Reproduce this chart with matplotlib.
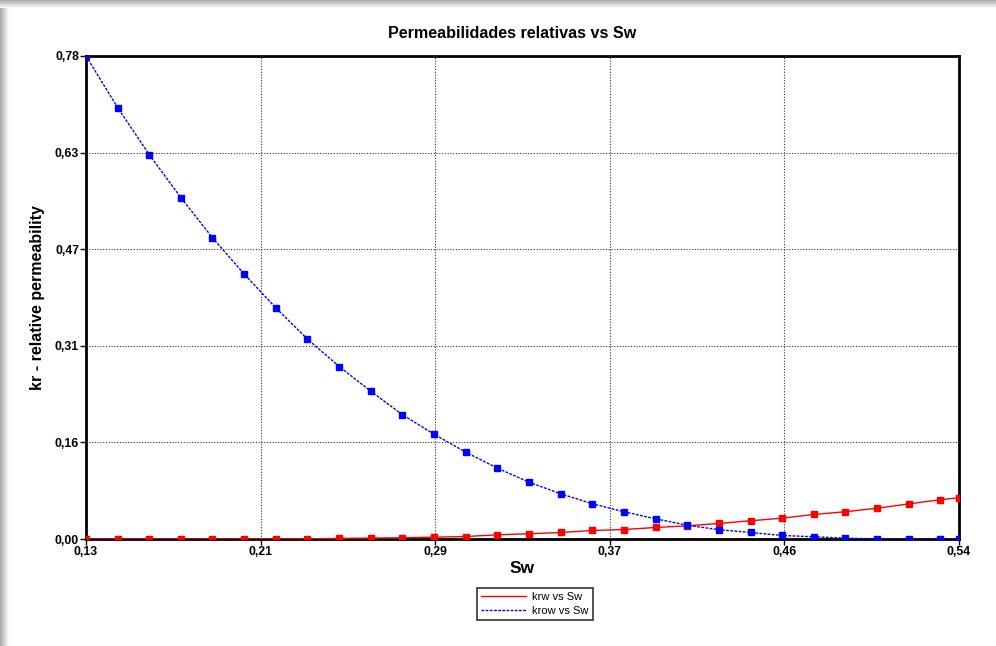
import matplotlib
matplotlib.use("Agg")
import matplotlib.pyplot as plt
import numpy as np

plt.rcParams['font.family'] = ['Liberation Sans', 'DejaVu Sans']

# water saturation of each point
sw = [0.1300, 0.1449, 0.1597, 0.1746, 0.1894, 0.2043, 0.2192, 0.2340,
      0.2489, 0.2637, 0.2786, 0.2935, 0.3083, 0.3232, 0.3380, 0.3529,
      0.3678, 0.3826, 0.3975, 0.4123, 0.4272, 0.4421, 0.4569, 0.4718,
      0.4866, 0.5015, 0.5164, 0.5312, 0.5400]

krw = [0.0, 0.0, 0.0, 0.0, 0.0, 0.0, 0.0003, 0.0003,
       0.001, 0.0015, 0.002, 0.003, 0.004, 0.0068, 0.0085, 0.0106,
       0.0138, 0.0154, 0.0187, 0.0214, 0.0252, 0.0296, 0.0338, 0.0398,
       0.0442, 0.050, 0.057, 0.0637, 0.067]

krow = [0.784, 0.700, 0.624, 0.554, 0.489, 0.430, 0.375, 0.3245,
        0.280, 0.240, 0.2018, 0.170, 0.141, 0.115, 0.0923, 0.0734,
        0.0572, 0.0442, 0.0328, 0.0224, 0.0151, 0.0106, 0.0057, 0.0036,
        0.0013, 0.0003, 0.0, 0.0, 0.0]

xtick_labels = ["0,13", "0,21", "0,29", "0,37", "0,46", "0,54"]
ytick_labels = ["0,00", "0,16", "0,31", "0,47", "0,63", "0,78"]

W, H = 996, 646
fig = plt.figure(figsize=(W / 100, H / 100), dpi=100)
fig.patch.set_facecolor("white")

# window shadow along the top and left edges
grad = np.linspace(0.66, 1.0, 64)
top = fig.add_axes([0, 1 - 8 / H, 1, 8 / H])
top.imshow(grad[:, None], aspect="auto", cmap="gray", vmin=0, vmax=1)
top.axis("off")
left = fig.add_axes([0, 0, 9 / W, 1 - 8 / H])
left.imshow(grad[None, :], aspect="auto", cmap="gray", vmin=0, vmax=1)
left.axis("off")

ax = fig.add_axes([86 / W, 1 - 539 / H, (959 - 86) / W, (539 - 56) / H])

ax.plot(sw, krw, color="red", lw=1.0, marker="s", ms=4.3,
        mec="red", mfc="red", label="krw vs Sw", zorder=3)
ax.plot(sw, krow, color="blue", lw=1.0, ls=(0, (2, 1)), marker="s", ms=4.3,
        mec="blue", mfc="blue", label="krow vs Sw", zorder=3)

ax.set_xlim(0.13, 0.54)
ax.set_ylim(0, 0.784)
ax.set_xticks(np.linspace(0.13, 0.54, 6))
ax.set_xticklabels(xtick_labels, fontsize=8.8, fontweight="bold")
ax.set_yticks(np.linspace(0, 0.784, 6))
ax.set_yticklabels(ytick_labels, fontsize=8.8, fontweight="bold")
ax.tick_params(direction="out", length=4, width=1, pad=1)
ax.grid(True, color="#333333", ls=(0, (1, 1.5)), lw=0.8)
ax.set_axisbelow(True)
for s in ax.spines.values():
    s.set_linewidth(2)
    s.set_color("black")

ax.set_title("Permeabilidades relativas vs Sw", fontsize=11.6,
             fontweight="bold", pad=13, x=(512 - 86) / 873)
ax.set_xlabel("Sw", fontsize=12.5, fontweight="bold", labelpad=2)
ax.set_ylabel("kr - relative permeability", fontsize=11.5,
              fontweight="bold", labelpad=7)

handles = [plt.Line2D([], [], color="red", lw=1.0),
           plt.Line2D([], [], color="blue", lw=1.0, ls=(0, (2, 1)))]
leg = fig.legend(handles, ["krw vs Sw", "krow vs Sw"], loc="center",
                 bbox_to_anchor=(535 / W, 1 - 604 / H), fontsize=8,
                 frameon=True, fancybox=False, handlelength=4,
                 borderpad=0.35, labelspacing=0.3, handletextpad=0.6)
leg.get_frame().set_edgecolor("black")
leg.get_frame().set_linewidth(1.2)

fig.savefig("out.png", dpi=100)
